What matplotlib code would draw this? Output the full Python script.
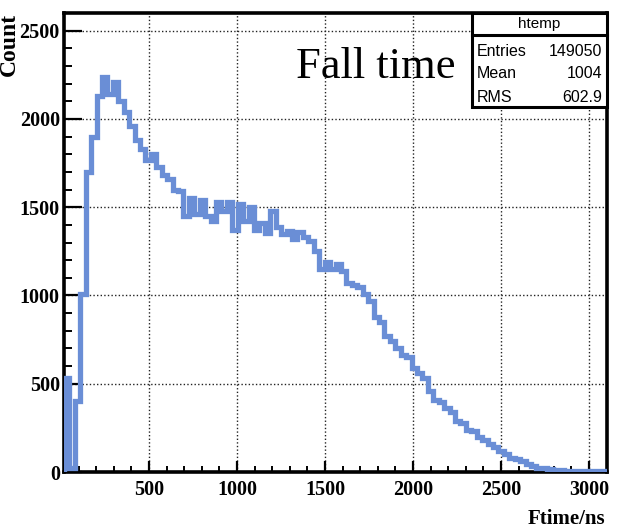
import numpy as np
import matplotlib.pyplot as plt
from matplotlib.patches import Rectangle
from matplotlib.ticker import MultipleLocator

# histogram range and bin contents (100 bins)
x_min = 17
x_max = 3102
counts = [
    530, 20, 400, 1010, 1700, 1900, 2130, 2240, 2140, 2210,
    2100, 2040, 1960, 1880, 1830, 1770, 1800, 1730, 1680, 1660,
    1600, 1590, 1450, 1550, 1460, 1540, 1450, 1420, 1530, 1480,
    1530, 1370, 1520, 1420, 1500, 1370, 1410, 1355, 1480, 1385,
    1350, 1365, 1320, 1360, 1330, 1310, 1250, 1150, 1190, 1150,
    1180, 1140, 1070, 1060, 1050, 1010, 970, 880, 850, 770,
    740, 700, 660, 650, 590, 560, 535, 460, 410, 395,
    360, 340, 290, 275, 240, 235, 200, 180, 160, 140,
    120, 100, 80, 75, 60, 45, 35, 25, 20, 15,
    12, 10, 8, 8, 6, 5, 5, 4, 3, 3,
]
edges = np.linspace(x_min, x_max, len(counts) + 1)

stats_names = ["Entries", "Mean", "RMS"]
stats_values = ["149050", "1004", "602.9"]

W, H = 620, 531
fig = plt.figure(figsize=(W / 100, H / 100), dpi=100)
fig.patch.set_facecolor('white')

# plot frame in pixels: left 64, right 607, top 13, bottom 472
def fx(px):
    return px / W

def fy(py):
    return 1 - py / H

ax = fig.add_axes([fx(64), fy(472), fx(607) - fx(64), fy(13) - fy(472)])

ax.stairs(counts, edges, color='#6a8ed6', lw=3.8, baseline=0, zorder=3)

ax.set_xlim(x_min, x_max)
ax.set_ylim(0, 2600)

ax.xaxis.set_major_locator(MultipleLocator(500))
ax.xaxis.set_minor_locator(MultipleLocator(100))
ax.yaxis.set_major_locator(MultipleLocator(500))
ax.yaxis.set_minor_locator(MultipleLocator(100))

ax.grid(True, which='major', color='#222222', linestyle=(0, (1, 1.6)), lw=1.0, zorder=1)
ax.set_axisbelow(True)

for s in ax.spines.values():
    s.set_linewidth(2.6)
    s.set_color('black')

ax.tick_params(axis='y', which='major', direction='in', length=13, width=1.6, pad=3)
ax.tick_params(axis='y', which='minor', direction='in', length=6, width=1.4)
ax.tick_params(axis='x', which='major', direction='in', length=8, width=1.6, pad=6)
ax.tick_params(axis='x', which='minor', direction='in', length=4, width=1.4)

tick_font = dict(family='Liberation Serif', weight='bold', size=14.5)
ax.set_xticks([500, 1000, 1500, 2000, 2500, 3000])
ax.set_xticklabels(['500', '1000', '1500', '2000', '2500', '3000'], **tick_font)
ax.set_yticks([0, 500, 1000, 1500, 2000, 2500])
ax.set_yticklabels(['0', '500', '1000', '1500', '2000', '2500'], **tick_font)

# axis titles (ROOT style, at the end of the axes)
fig.text(fx(9), fy(13), 'Count', rotation=90, ha='center', va='top',
         family='Liberation Serif', weight='bold', size=17)
fig.text(fx(605), fy(524), 'Ftime/ns', ha='right', va='baseline',
         family='Liberation Serif', weight='bold', size=15)

# big title inside the frame
fig.text(fx(296), fy(78), 'Fall time', ha='left', va='baseline',
         family='Liberation Serif', size=32)

# stats box
bx0, bx1, by0, by1, bsep = 472, 607, 13, 107, 35
box = Rectangle((fx(bx0), fy(by1)), fx(bx1) - fx(bx0), fy(by0) - fy(by1),
                transform=fig.transFigure, facecolor='white', edgecolor='black',
                lw=2.2, zorder=5)
fig.patches.append(box)
fig.add_artist(plt.Line2D([fx(bx0), fx(bx1)], [fy(bsep), fy(bsep)],
                          transform=fig.transFigure, color='black', lw=2.2, zorder=6))

sans = ['Liberation Sans Narrow', 'Liberation Sans']
fig.text(fx((bx0 + bx1) / 2), fy(24), 'htemp', ha='center', va='center',
         family=sans, size=11, zorder=7)
row_y = [51, 74, 97]
for name, val, yy in zip(stats_names, stats_values, row_y):
    fig.text(fx(477), fy(yy), name, ha='left', va='center', family=sans, size=11.5, zorder=7)
    fig.text(fx(602), fy(yy), val, ha='right', va='center', family=sans, size=11.5, zorder=7)

fig.savefig('out.png', dpi=100, facecolor='white')
